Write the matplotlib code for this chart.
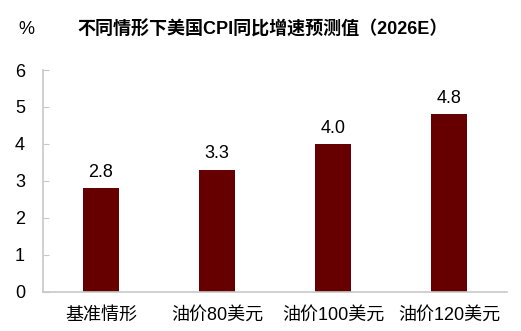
import matplotlib.pyplot as plt

plt.rcParams['font.family'] = ['Liberation Sans', 'Noto Sans CJK SC']

categories = ['基准情形', '油价80美元', '油价100美元', '油价120美元']
values = [2.8, 3.3, 4.0, 4.8]
yticks = [0, 1, 2, 3, 4, 5, 6]

fig = plt.figure(figsize=(5.21, 3.31), dpi=100)
ax = fig.add_axes([0.0825, 0.118, 0.8905, 0.6705])

x = range(len(categories))
ax.bar(x, values, width=0.31, color='#660000', zorder=2)
for i, v in zip(x, values):
    ax.text(i, v + 0.2, f'{v:.1f}', ha='center', va='bottom', fontsize=13)

ax.set_xlim(-0.5, 3.5)
ax.set_ylim(0, 6)
ax.set_yticks(yticks)
ax.set_xticks(list(x))
ax.set_xticklabels(categories, fontsize=13)
ax.tick_params(axis='y', direction='in', length=4, color='#c8c8c8', labelsize=13, pad=13)
ax.tick_params(axis='x', length=0, pad=11)

for s in ['top', 'right']:
    ax.spines[s].set_visible(False)
for s in ['left', 'bottom']:
    ax.spines[s].set_color('#c8c8c8')
    ax.spines[s].set_linewidth(1.2)

fig.text(0.05, 0.91, '%', ha='center', va='center', fontsize=13)
fig.text(0.505, 0.91, '不同情形下美国CPI同比增速预测值（2026E）', ha='center', va='center',
         fontsize=13, fontweight='bold')

fig.savefig('out.png', dpi=100)
